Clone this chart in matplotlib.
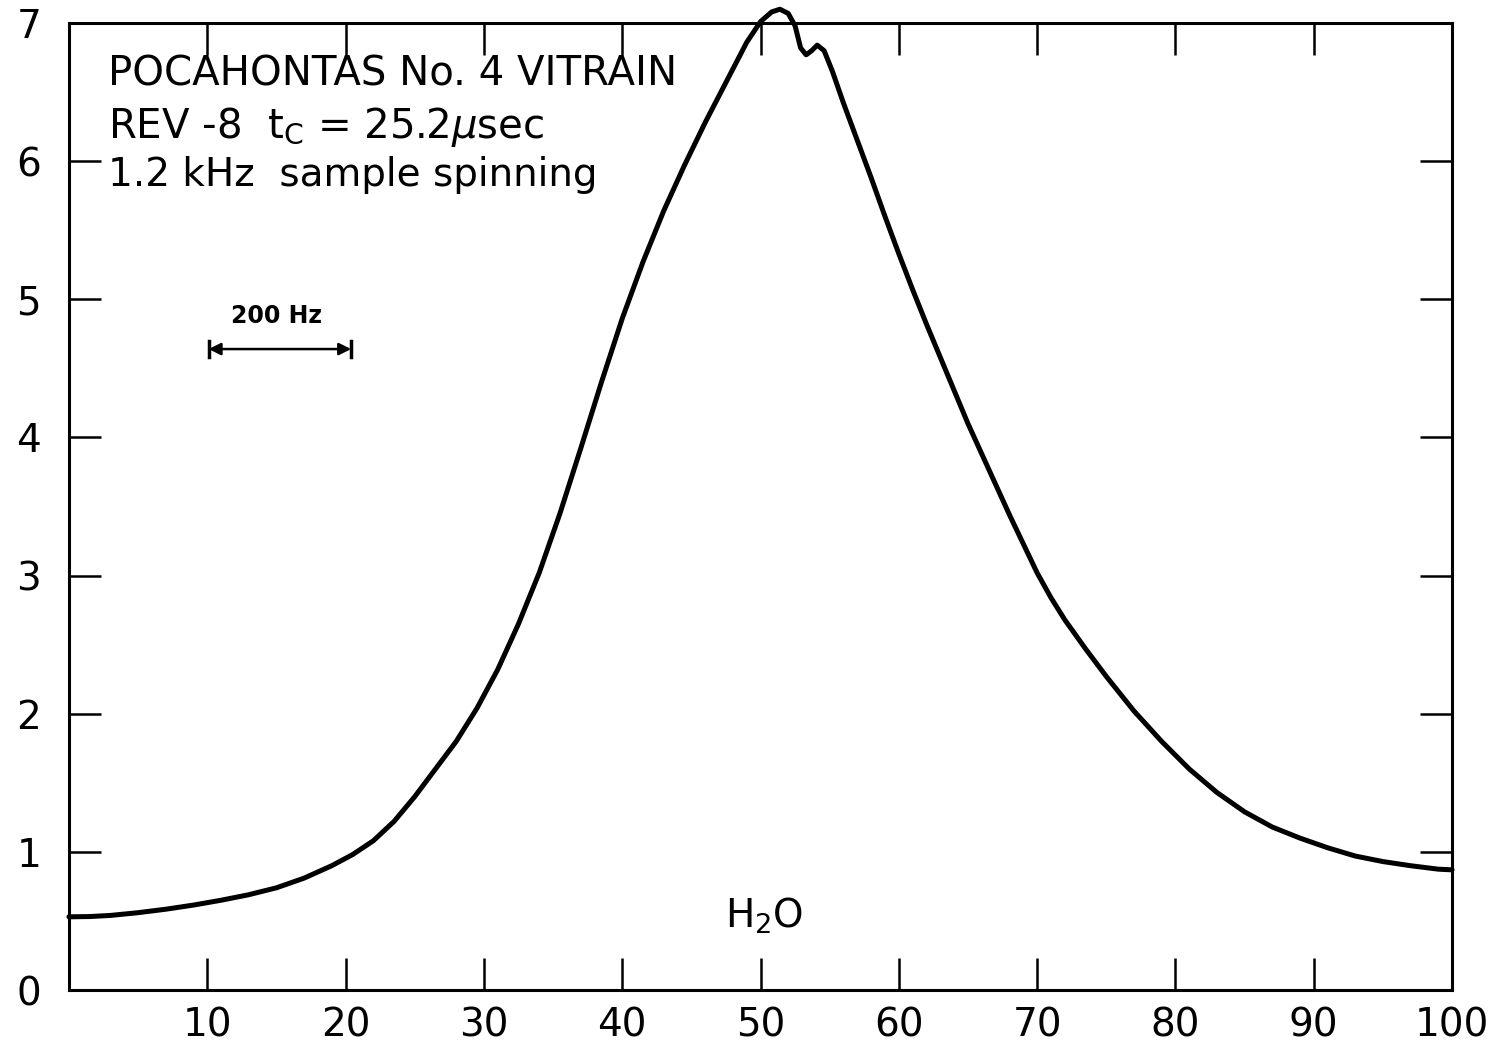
import matplotlib
matplotlib.use("Agg")
import matplotlib.pyplot as plt

# Data
freq = [0, 1.5, 3, 5, 7, 9, 11, 13, 15, 17, 19, 20.5, 22, 23.5, 25, 26.5, 28,
        29.5, 31, 32.5, 34, 35.5, 37, 38.5, 40, 41.5, 43, 44.5, 46, 47.5, 49,
        50, 50.8, 51.4, 52, 52.5, 52.9, 53.3, 53.7, 54.1, 54.6, 55.2, 56, 57,
        58, 59, 60, 61, 62, 63, 64, 65, 66, 67, 68, 69, 70, 71, 72, 73.5, 75,
        77, 79, 81, 83, 85, 87, 89, 91, 93, 95, 97, 99, 100]
signal = [0.53, 0.532, 0.54, 0.56, 0.585, 0.615, 0.65, 0.69, 0.74, 0.81, 0.9,
          0.98, 1.08, 1.22, 1.4, 1.6, 1.8, 2.04, 2.32, 2.65, 3.02, 3.45, 3.92,
          4.4, 4.86, 5.27, 5.64, 5.97, 6.28, 6.57, 6.86, 7.01, 7.08, 7.1, 7.07,
          6.98, 6.82, 6.77, 6.8, 6.84, 6.8, 6.65, 6.42, 6.15, 5.88, 5.6, 5.33,
          5.07, 4.82, 4.58, 4.34, 4.1, 3.88, 3.66, 3.44, 3.23, 3.02, 2.84, 2.68,
          2.47, 2.27, 2.02, 1.8, 1.6, 1.43, 1.29, 1.18, 1.1, 1.03, 0.97, 0.93,
          0.9, 0.875, 0.87]
xticks = [10, 20, 30, 40, 50, 60, 70, 80, 90, 100]
yticks = [0, 1, 2, 3, 4, 5, 6, 7]

plt.rcParams['font.family'] = ['DejaVu Sans']

fig = plt.figure(figsize=(14.89, 10.52), dpi=100)
ax = fig.add_axes([0.0463, 0.0589, 0.9289, 0.9192])

ax.plot(freq, signal, color='black', lw=3.6, clip_on=False,
        solid_capstyle='round', solid_joinstyle='round')

ax.set_xlim(0, 100)
ax.set_ylim(0, 7)
ax.set_xticks(xticks)
ax.set_yticks(yticks)
ax.set_xticklabels([str(t) for t in xticks])
ax.set_yticklabels([str(t) for t in yticks])

for s in ax.spines.values():
    s.set_linewidth(2.2)

ax.tick_params(axis='both', which='both', direction='in', length=23, width=1.8,
               top=True, right=True, labelsize=28)
ax.tick_params(axis='x', pad=12)
ax.tick_params(axis='y', pad=20)

ax.text(2.8, 6.63, "POCAHONTAS No. 4 VITRAIN", fontsize=29, va='center', ha='left')
ax.text(2.8, 6.25, r"REV -8  t$_\mathrm{C}$ = 25.2$\mu$sec", fontsize=29, va='center', ha='left')
ax.text(2.8, 5.90, "1.2 kHz  sample spinning", fontsize=28, va='center', ha='left')

ax.text(15.0, 4.88, "200 Hz", fontsize=17, fontweight='bold', ha='center', va='center')
ax.annotate("", xy=(10.1, 4.64), xytext=(20.4, 4.64),
            arrowprops=dict(arrowstyle='<|-|>', color='black', lw=1.8,
                            mutation_scale=18, shrinkA=0, shrinkB=0))
ax.plot([10.1, 10.1], [4.58, 4.70], color='black', lw=2.5)
ax.plot([20.4, 20.4], [4.58, 4.70], color='black', lw=2.5)

ax.text(50.3, 0.54, r"H$_2$O", fontsize=28, ha='center', va='center')

fig.savefig("out.png", dpi=100)
